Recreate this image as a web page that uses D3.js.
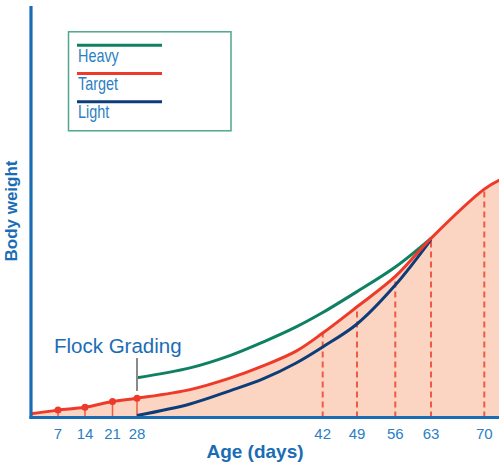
<!DOCTYPE html>
<html lang="en">
<head>
<meta charset="utf-8">
<title>flock grading</title>
<script src="https://d3js.org/d3.v7.min.js"></script>
<style>
  body { margin:0; background:#fff; }
  svg { display:block; font-family:"Liberation Sans", Arial, sans-serif; }
</style>
</head>
<body>
<div id="chart"></div>
<script>
// x positions of the day marks (axis is not linear in the original)
var tickDays = [7, 14, 21, 28, 42, 49, 56, 63, 70]

// target curve (whole period), arbitrary body weight units
var targetDays = [0, 7, 14, 21, 28, 32, 35, 37.5, 40, 42, 49, 56, 63, 70, 72]
var targetVals = [0.9, 1.8, 2.5, 3.9, 4.7, 6.8, 9.6, 12.6, 16.2, 20.6, 27.0, 34.4, 43.7, 55.7, 57.9]

// heavy and light groups after grading at day 28
var gradeDays = [28, 32, 35, 37.5, 40, 42, 49, 56, 63]
var heavyVals = [9.7, 12.1, 15.1, 18.4, 22.1, 25.6, 30.7, 36.7, 43.7]
var lightVals = [0.5, 3.3, 6.5, 9.4, 13.3, 17.2, 22.8, 32.3, 43.4]

var legendNames = ["Heavy", "Target", "Light"]
var legendColors = ["#0f8062", "#ee3a2a", "#0d3d78"]

var W = 499, H = 464
var blue = "#1a6db5"
var svg = d3.select("#chart").append("svg").attr("width", W).attr("height", H)

var x = d3.scaleLinear()
  .domain([0, 7, 14, 21, 28, 42, 49, 56, 63, 70])
  .range([31, 58, 85, 112.5, 137, 322.7, 357, 395.3, 431, 484.3])
var y = d3.scaleLinear().domain([0, 100]).range([417.5, 7.5])

var target = targetDays.map(function(d, i){ return [d, targetVals[i]] })
var heavy = gradeDays.map(function(d, i){ return [d, heavyVals[i]] })
var light = gradeDays.map(function(d, i){ return [d, lightVals[i]] })

var curve = d3.curveCatmullRom.alpha(0.5)
var line = d3.line().x(function(d){ return x(d[0]) }).y(function(d){ return y(d[1]) }).curve(curve)
var area = d3.area().x(function(d){ return x(d[0]) }).y0(y(0)).y1(function(d){ return y(d[1]) }).curve(curve)

// fill under target
svg.append("path").attr("d", area(target)).attr("fill", "#fcd4c2")

// value at a day on the target curve (read from the path)
var tPath = svg.append("path").attr("d", line(target)).attr("fill", "none").attr("stroke", "none")
function targetY(day){
  var node = tPath.node(), px = x(day)
  var lo = 0, hi = node.getTotalLength()
  for (var k = 0; k < 40; k++){
    var mid = (lo + hi) / 2
    if (node.getPointAtLength(mid).x < px) lo = mid; else hi = mid
  }
  return node.getPointAtLength(lo).y
}

// vertical markers
tickDays.forEach(function(d){
  var early = d <= 28
  svg.append("line")
    .attr("x1", x(d)).attr("x2", x(d))
    .attr("y1", y(0)).attr("y2", targetY(d))
    .attr("stroke", "#f05a45").attr("stroke-width", early ? 1.5 : 2)
    .attr("stroke-dasharray", early ? null : "6,4")
})

// curves
svg.append("path").attr("d", line(heavy)).attr("fill", "none").attr("stroke", legendColors[0]).attr("stroke-width", 3)
svg.append("path").attr("d", line(light)).attr("fill", "none").attr("stroke", legendColors[2]).attr("stroke-width", 3)
svg.append("path").attr("d", line(target)).attr("fill", "none").attr("stroke", legendColors[1]).attr("stroke-width", 3)

// dots for weekly weighing
tickDays.filter(function(d){ return d <= 28 }).forEach(function(d){
  svg.append("circle").attr("cx", x(d)).attr("cy", targetY(d)).attr("r", 3.5).attr("fill", "#ee3a2a")
})

// flock grading marker
svg.append("line").attr("x1", x(28)).attr("x2", x(28)).attr("y1", 358).attr("y2", 391)
  .attr("stroke", "#8a8a8a").attr("stroke-width", 2)
svg.append("text").attr("x", 54).attr("y", 352.5).attr("fill", blue)
  .style("font-size", "20.5px").text("Flock Grading")

// axes
svg.append("line").attr("x1", 31).attr("x2", 31).attr("y1", 6).attr("y2", 419)
  .attr("stroke", blue).attr("stroke-width", 3.2)
svg.append("line").attr("x1", 29.5).attr("x2", W).attr("y1", y(0)).attr("y2", y(0))
  .attr("stroke", blue).attr("stroke-width", 3.2)

svg.selectAll(".tick-label").data(tickDays).enter().append("text")
  .attr("class", "tick-label")
  .attr("x", function(d){ return x(d) }).attr("y", 439)
  .attr("text-anchor", "middle").attr("fill", "#2a7fc4")
  .style("font-size", "15px").text(function(d){ return d })

svg.append("text").attr("x", 255).attr("y", 457.5).attr("text-anchor", "middle")
  .attr("fill", blue).style("font-size", "19px").style("font-weight", "bold").text("Age (days)")
svg.append("text").attr("transform", "translate(16.5,211) rotate(-90)").attr("text-anchor", "middle")
  .attr("fill", blue).style("font-size", "17px").style("font-weight", "bold").text("Body weight")

// legend
var lg = svg.append("g")
lg.append("rect").attr("x", 68.5).attr("y", 31.8).attr("width", 162.5).attr("height", 99)
  .attr("fill", "#fff").attr("stroke", "#4fa88a").attr("stroke-width", 1.5)
legendNames.forEach(function(n, i){
  var ly = 45.3 + i * 28.2
  lg.append("line").attr("x1", 77).attr("x2", 162).attr("y1", ly).attr("y2", ly)
    .attr("stroke", legendColors[i]).attr("stroke-width", 3)
  // narrow type, squeezed horizontally
  lg.append("text").attr("transform", "translate(78," + (ly + 16.6) + ") scale(0.8,1)")
    .attr("fill", "#2a7fc4").style("font-size", "18px").text(n)
})
</script>
</body>
</html>
